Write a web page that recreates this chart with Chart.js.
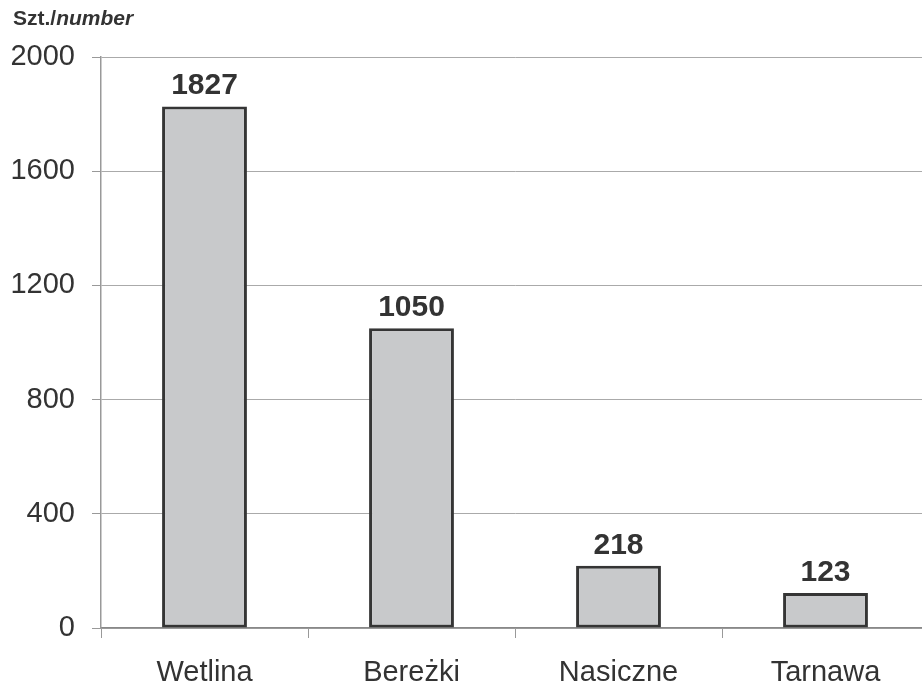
<!DOCTYPE html>
<html>
<head>
<meta charset="utf-8">
<script src="https://cdn.jsdelivr.net/npm/chart.js@4.4.0/dist/chart.umd.min.js"></script>
<style>
  body { margin: 0; overflow: hidden; background: #fff; }
  #wrap { position: relative; width: 922px; height: 687px; overflow: hidden; }
  #unit { position: absolute; left: 13px; top: 6px; font: bold 21px "Liberation Sans", Arial, sans-serif; color: #333; }
  canvas { position: absolute; left: 0; top: 0; }
</style>
</head>
<body>
<div id="wrap">
  <canvas id="chart" width="930" height="687"></canvas>
  <div id="unit">Szt./<i>number</i></div>
</div>
<script>
const places = ['Wetlina', 'Bereżki', 'Nasiczne', 'Tarnawa'];
const counts = [1827, 1050, 218, 123];
const yTicks = [0, 400, 800, 1200, 1600, 2000];

const FONT = '"Liberation Sans", Arial, sans-serif';

// bold value above each bar
const valueLabels = {
  id: 'valueLabels',
  afterDatasetsDraw(chart) {
    const ctx = chart.ctx;
    const meta = chart.getDatasetMeta(0);
    ctx.save();
    ctx.font = 'bold 30px ' + FONT;
    ctx.fillStyle = '#333';
    ctx.textAlign = 'center';
    ctx.textBaseline = 'alphabetic';
    meta.data.forEach((bar, i) => {
      ctx.fillText(String(counts[i]), bar.x, bar.y - 12);
    });
    ctx.restore();
  }
};

new Chart(document.getElementById('chart'), {
  type: 'bar',
  data: {
    labels: places,
    datasets: [{
      data: counts,
      backgroundColor: '#c8c9cb',
      borderColor: '#353535',
      borderWidth: 3,
      borderSkipped: false,
      barPercentage: 0.41,
      categoryPercentage: 1
    }]
  },
  options: {
    responsive: false,
    animation: false,
    layout: { padding: { top: 57, right: 1, left: 0, bottom: 0 } },
    plugins: { legend: { display: false }, tooltip: { enabled: false } },
    scales: {
      x: {
        offset: true,
        grid: { offset: true, drawOnChartArea: false, drawTicks: true, tickLength: 10, color: '#999' },
        border: { color: '#888', width: 1.5 },
        ticks: { font: { family: FONT, size: 29 }, color: '#333', padding: 18, maxRotation: 0 },
        afterFit(scale) { scale.height = 59; }
      },
      y: {
        min: 0,
        max: 2000,
        afterBuildTicks(scale) { scale.ticks = yTicks.map(v => ({ value: v })); },
        grid: { color: '#aaa', tickLength: 9, tickColor: '#999' },
        border: { color: '#999', width: 1.5 },
        ticks: { font: { family: FONT, size: 29 }, color: '#333', padding: 17, callback: v => String(v) },
        afterFit(scale) { scale.width = 101; }
      }
    }
  },
  plugins: [valueLabels]
});
</script>
</body>
</html>
